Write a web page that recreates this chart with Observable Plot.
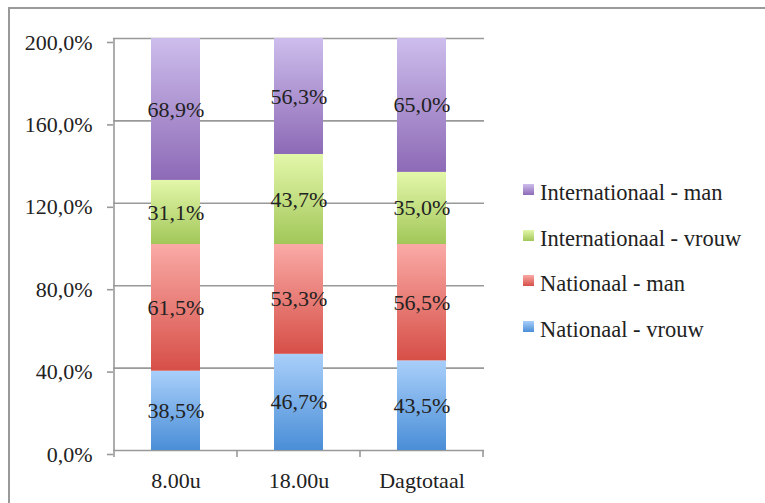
<!DOCTYPE html>
<html><head><meta charset="utf-8">
<script src="https://cdn.jsdelivr.net/npm/d3@7"></script>
<script src="https://cdn.jsdelivr.net/npm/@observablehq/plot@0.6"></script>
<style>
body{margin:0;background:#fff;}
#wrap{position:relative;width:765px;height:503px;overflow:hidden;font-family:"Liberation Serif",serif;color:#222;}
#frame{position:absolute;left:8px;top:7px;width:800px;height:600px;border-top:2px solid #999;border-left:2px solid #999;}
#chart{position:absolute;left:0;top:0;}
.item{position:absolute;left:523px;height:24px;line-height:24px;font-size:22.5px;white-space:nowrap;}
.sw{position:absolute;left:0;top:3px;width:11px;height:11px;}
.lt{position:absolute;left:17px;top:0;}
</style>
</head><body>
<div id="wrap"><div id="frame"></div><div id="chart"></div></div>
<svg width="0" height="0" style="position:absolute">
<defs id="defs"></defs>
</svg>
<script>
const categories = ["8.00u", "18.00u", "Dagtotaal"];
const series = ["Nationaal - vrouw", "Nationaal - man", "Internationaal - vrouw", "Internationaal - man"];
const nationaalVrouw = [38.5, 46.7, 43.5];
const nationaalMan = [61.5, 53.3, 56.5];
const internationaalVrouw = [31.1, 43.7, 35.0];
const internationaalMan = [68.9, 56.3, 65.0];
const yTicks = [0, 40, 80, 120, 160, 200];
const legendOrder = ["Internationaal - man", "Internationaal - vrouw", "Nationaal - man", "Nationaal - vrouw"];

const seriesValues = [nationaalVrouw, nationaalMan, internationaalVrouw, internationaalMan];
const gradientStops = [
  ["#a9cffa", "#4a8ed7"],
  ["#faaaa6", "#d64f47"],
  ["#e3f7aa", "#a2c759"],
  ["#cdbdec", "#8d6ab6"]
];
const defs = document.getElementById("defs");
gradientStops.forEach(([a, b], i) => {
  defs.insertAdjacentHTML("beforeend",
    `<linearGradient id="g${i}" x1="0" y1="0" x2="0" y2="1"><stop offset="0" stop-color="${a}"/><stop offset="1" stop-color="${b}"/></linearGradient>`);
});

const data = categories.flatMap((c, i) => series.map((s, j) => ({category: c, series: s, value: seriesValues[j][i]})));
const fmt = d => d.toFixed(1).replace(".", ",") + "%";

const chart = Plot.plot({
  width: 765, height: 503,
  marginLeft: 113, marginRight: 281, marginTop: 38, marginBottom: 53,
  style: {fontFamily: "Liberation Serif", fontSize: "22px", color: "#222", background: "transparent"},
  x: {domain: categories, paddingInner: 0.6, paddingOuter: 0.3, label: null},
  y: {domain: [0, 200], label: null},
  color: {type: "identity"},
  marks: [
    Plot.ruleY(yTicks, {stroke: "#999", strokeWidth: 1.6}),
    Plot.axisY({ticks: yTicks, tickSize: 6, tickPadding: 15, tickFormat: fmt, label: null, stroke: "#999", strokeWidth: 1.6, fill: "#222", dy: 4}),
    Plot.axisX({tickSize: 0, tickPadding: 22, label: null, fill: "#222"}),
    Plot.barY(data, {x: "category", y: "value", fill: d => `url(#g${series.indexOf(d.series)})`}),
    Plot.text(data, Plot.stackY({x: "category", y: "value", z: "series", text: d => fmt(d.value), fill: "#222"}))
  ]
});
document.getElementById("chart").appendChild(chart);

const xs = chart.scale("x"), ys = chart.scale("y");
const step = xs.step, bw = xs.bandwidth;
const start = xs.apply(categories[0]) - (step - bw) / 2;
const y0 = ys.apply(0), yTop = ys.apply(200);
const g = d3.select(chart).append("g").attr("stroke", "#999").attr("stroke-width", 1.6);
g.append("line").attr("x1", start).attr("x2", start).attr("y1", yTop).attr("y2", y0 + 7);
for (let i = 1; i <= categories.length; i++) {
  const x = start + i * step;
  g.append("line").attr("x1", x).attr("x2", x).attr("y1", y0).attr("y2", y0 + 7);
}

const wrap = document.getElementById("wrap");
legendOrder.forEach((s, i) => {
  const k = series.indexOf(s);
  const [a, b] = gradientStops[k];
  const div = document.createElement("div");
  div.className = "item";
  div.style.top = (181 + i * 45.7) + "px";
  div.innerHTML = `<div class="sw" style="background:linear-gradient(${a},${b})"></div><div class="lt">${s}</div>`;
  wrap.appendChild(div);
});
</script>
</body></html>
